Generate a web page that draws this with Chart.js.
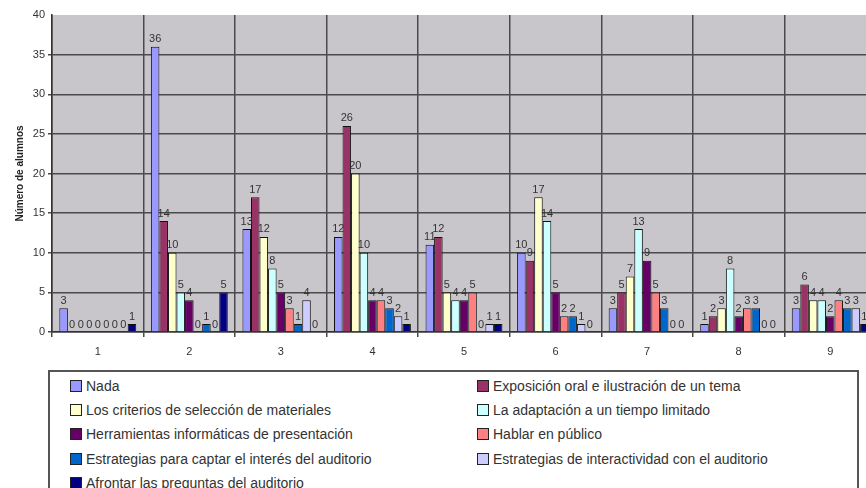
<!DOCTYPE html>
<html>
<head>
<meta charset="utf-8">
<script src="https://cdn.jsdelivr.net/npm/chart.js@4.4.0/dist/chart.umd.min.js"></script>
<style>
  html, body { margin: 0; padding: 0; background: #fff; overflow: hidden; width: 866px; height: 488px; }
  #wrap { position: absolute; left: 0; top: 0; width: 880px; height: 365px; }
  #legend {
    position: absolute; left: 48px; top: 370px; width: 811px; height: 140px;
    border: 2px solid #555; box-sizing: border-box;
    font-family: "Liberation Sans", Arial, sans-serif; font-size: 14px; color: #333;
  }
  .item { position: absolute; height: 18px; line-height: 18px; white-space: nowrap; }
  .sw { display: inline-block; width: 10px; height: 10px; border: 1px solid #222; vertical-align: -1px; margin-right: 4px; }
</style>
</head>
<body>
<div id="wrap"><canvas id="barChart"></canvas></div>
<div id="legend"></div>
<script>
const categories = ['1', '2', '3', '4', '5', '6', '7', '8', '9'];
const nada = [3, 36, 13, 12, 11, 10, 3, 1, 3];
const exposicion = [0, 14, 17, 26, 12, 9, 5, 2, 6];
const criterios = [0, 10, 12, 20, 5, 17, 7, 3, 4];
const adaptacion = [0, 5, 8, 10, 4, 14, 13, 8, 4];
const herramientas = [0, 4, 5, 4, 4, 5, 9, 2, 2];
const hablar = [0, 0, 3, 4, 5, 2, 5, 3, 4];
const captar = [0, 1, 1, 3, 0, 2, 3, 3, 3];
const interactividad = [0, 0, 4, 2, 1, 1, 0, 0, 3];
const afrontar = [1, 5, 0, 1, 1, 0, 0, 0, 1];

const seriesNames = [
  'Nada',
  'Exposición oral e ilustración de un tema',
  'Los criterios de selección de materiales',
  'La adaptación a un tiempo limitado',
  'Herramientas informáticas de presentación',
  'Hablar en público',
  'Estrategias para captar el interés del auditorio',
  'Estrategias de interactividad con el auditorio',
  'Afrontar las preguntas del auditorio'
];
const seriesData = [nada, exposicion, criterios, adaptacion, herramientas, hablar, captar, interactividad, afrontar];
const seriesColors = ['#9999FF', '#993366', '#FFFFCC', '#CCFFFF', '#660066', '#FF8080', '#0066CC', '#CCCCFF', '#000080'];

const font = "'Liberation Sans', Arial, sans-serif";

// grey plot area like the excel default
const plotBg = {
  id: 'plotBg',
  beforeDraw(chart) {
    const a = chart.chartArea;
    const ctx = chart.ctx;
    ctx.save();
    ctx.fillStyle = '#C8C6CB';
    ctx.fillRect(a.left, a.top, a.right - a.left, a.bottom - a.top);
    ctx.restore();
  }
};

// value on top of every bar
const barLabels = {
  id: 'barLabels',
  afterDatasetsDraw(chart) {
    const ctx = chart.ctx;
    ctx.save();
    ctx.font = '11px ' + font;
    ctx.fillStyle = '#333';
    ctx.textAlign = 'center';
    ctx.textBaseline = 'bottom';
    chart.data.datasets.forEach((ds, i) => {
      chart.getDatasetMeta(i).data.forEach((bar, j) => {
        ctx.fillText(ds.data[j], bar.x, bar.y - 2);
      });
    });
    ctx.restore();
  }
};

const ctxBar = document.getElementById('barChart');
new Chart(ctxBar, {
  type: 'bar',
  data: {
    labels: categories,
    datasets: seriesNames.map((name, i) => ({
      label: name,
      data: seriesData[i],
      backgroundColor: seriesColors[i],
      borderColor: '#111',
      borderWidth: 1,
      categoryPercentage: 0.84,
      barPercentage: 1
    }))
  },
  options: {
    responsive: true,
    maintainAspectRatio: false,
    animation: false,
    layout: { padding: { top: 15, right: 4, left: 0, bottom: 0 } },
    plugins: {
      legend: { display: false },
      tooltip: { enabled: false }
    },
    scales: {
      x: {
        grid: { color: '#4a4a4a', lineWidth: 1.5, offset: true, tickLength: 5 },
        border: { color: '#333', width: 1.5 },
        ticks: { color: '#333', font: { family: font, size: 11 }, padding: 8 },
        afterFit(scale) { scale.height = 33; }
      },
      y: {
        min: 0,
        max: 40,
        ticks: { stepSize: 5, color: '#333', font: { family: font, size: 11 }, padding: 3 },
        grid: {
          color: c => (c.tick && c.tick.value === 40) ? 'rgba(0,0,0,0)' : '#4a4a4a',
          lineWidth: 1.5,
          tickLength: 4
        },
        border: { color: '#333', width: 1.5 },
        title: {
          display: true,
          text: 'Número de alumnos',
          color: '#222',
          font: { family: font, size: 10, weight: 'bold' },
          padding: { top: 14, bottom: 0 }
        },
        afterFit(scale) { scale.width = 52; }
      }
    }
  },
  plugins: [plotBg, barLabels]
});

// two column legend box
const legend = document.getElementById('legend');
const rowTops = [5, 29, 53, 78, 102];
seriesNames.forEach((name, i) => {
  const el = document.createElement('div');
  el.className = 'item';
  el.style.left = (i % 2 === 0 ? 20 : 427) + 'px';
  el.style.top = rowTops[Math.floor(i / 2)] + 'px';
  el.innerHTML = '<span class="sw" style="background:' + seriesColors[i] + '"></span>' + name;
  legend.appendChild(el);
});
</script>
</body>
</html>
